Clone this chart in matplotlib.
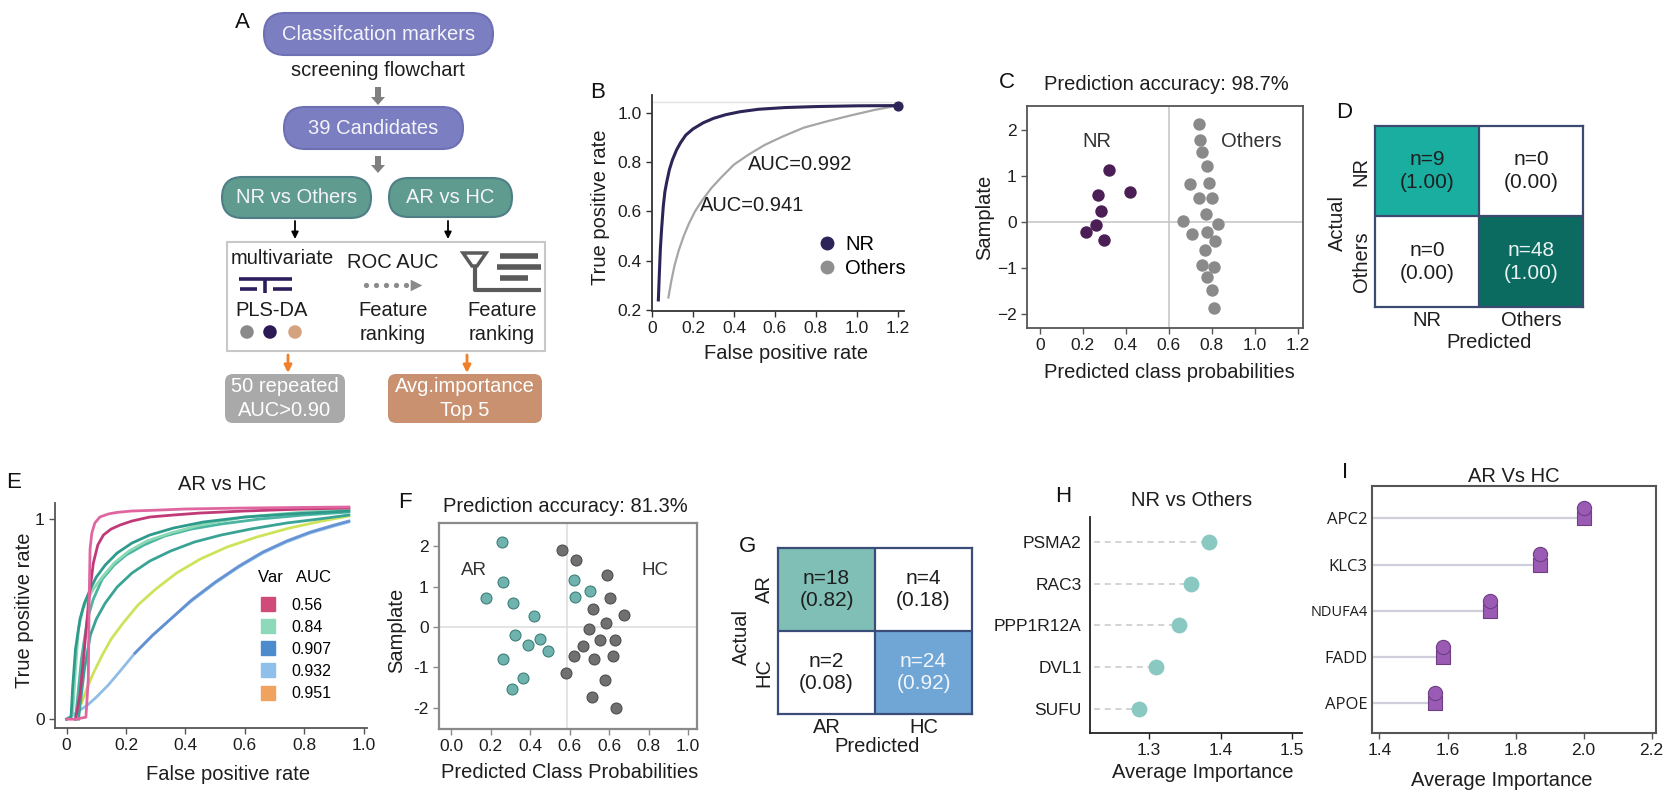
import matplotlib
matplotlib.use("Agg")
import matplotlib.pyplot as plt
import numpy as np
from matplotlib.patches import FancyBboxPatch, Rectangle, FancyArrow, Polygon
from matplotlib.lines import Line2D
from matplotlib.colors import to_rgb

plt.rcParams['font.family'] = ['Liberation Sans', 'DejaVu Sans']
plt.rcParams['axes.unicode_minus'] = True

# ======================= DATA =======================
# Panel B : ROC curves (NR vs Others)
b_nr_fpr = [0.031, 0.036, 0.041, 0.047, 0.055, 0.063, 0.072, 0.085, 0.10, 0.12, 0.14, 0.165, 0.20,
            0.25, 0.30, 0.36, 0.43, 0.52, 0.65, 0.80, 1.0, 1.2]
b_nr_tpr = [0.24, 0.35, 0.45, 0.53, 0.62, 0.68, 0.72, 0.77, 0.81, 0.85, 0.88, 0.91, 0.935,
            0.96, 0.978, 0.993, 1.005, 1.015, 1.022, 1.026, 1.029, 1.03]
b_oth_fpr = [0.08, 0.095, 0.11, 0.13, 0.155, 0.18, 0.21, 0.245, 0.29, 0.34, 0.40, 0.47, 0.55,
             0.64, 0.74, 0.85, 0.97, 1.09, 1.2]
b_oth_tpr = [0.25, 0.32, 0.38, 0.44, 0.50, 0.55, 0.60, 0.645, 0.695, 0.74, 0.79, 0.83, 0.87,
             0.905, 0.94, 0.965, 0.99, 1.013, 1.03]
b_auc_labels = ['AUC=0.992', 'AUC=0.941']
b_classes = ['NR', 'Others']

# Panel C : predicted class probabilities (NR vs Others)
c_nr_x = [0.324, 0.42, 0.27, 0.283, 0.26, 0.217, 0.30]
c_nr_y = [1.13, 0.65, 0.58, 0.24, -0.07, -0.21, -0.38]
c_oth_x = [0.743, 0.745, 0.757, 0.78, 0.70, 0.788, 0.743, 0.80, 0.773, 0.667,
           0.827, 0.71, 0.78, 0.816, 0.77, 0.757, 0.812, 0.78, 0.80, 0.81]
c_oth_y = [2.13, 1.78, 1.53, 1.21, 0.82, 0.84, 0.52, 0.52, 0.18, 0.02,
           -0.05, -0.25, -0.21, -0.41, -0.60, -0.94, -0.97, -1.19, -1.48, -1.87]
c_title = 'Prediction accuracy: 98.7%'

# Panel D : confusion matrix (NR vs Others)
d_classes = ['NR', 'Others']
d_counts = [[9, 0], [0, 48]]
d_props = [[1.00, 0.00], [0.00, 1.00]]

# Panel E : ROC curves AR vs HC
e_fpr_pink1 = [0.0, 0.03, 0.065, 0.073, 0.076, 0.079, 0.085, 0.095, 0.112, 0.14, 0.169, 0.22, 0.281, 0.40, 0.60, 0.80, 0.95]
e_tpr_pink1 = [0.0, 0.0, 0.01, 0.2, 0.6, 0.85, 0.93, 0.98, 1.01, 1.025, 1.033, 1.04, 1.043, 1.05, 1.055, 1.058, 1.06]
e_fpr_pink2 = [0.03, 0.045, 0.06, 0.075, 0.09, 0.105, 0.124, 0.15, 0.18, 0.22, 0.28, 0.36, 0.45, 0.60, 0.80, 0.95]
e_tpr_pink2 = [0.0, 0.12, 0.35, 0.60, 0.78, 0.87, 0.92, 0.95, 0.97, 0.99, 1.01, 1.02, 1.03, 1.04, 1.05, 1.055]
e_fpr_teal1 = [0.0, 0.015, 0.02, 0.03, 0.045, 0.06, 0.08, 0.10, 0.13, 0.17, 0.22, 0.28, 0.36, 0.46, 0.60, 0.75, 0.95]
e_tpr_teal1 = [0.0, 0.01, 0.15, 0.35, 0.50, 0.58, 0.65, 0.71, 0.77, 0.83, 0.88, 0.92, 0.955, 0.985, 1.01, 1.025, 1.04]
e_fpr_teal2 = [0.03, 0.05, 0.07, 0.09, 0.12, 0.16, 0.20, 0.26, 0.33, 0.42, 0.52, 0.65, 0.80, 0.95]
e_tpr_teal2 = [0.0, 0.30, 0.50, 0.60, 0.70, 0.77, 0.82, 0.87, 0.915, 0.95, 0.975, 1.0, 1.02, 1.035]
e_fpr_teal3 = [0.04, 0.06, 0.08, 0.10, 0.13, 0.17, 0.22, 0.28, 0.35, 0.43, 0.52, 0.62, 0.74, 0.85, 0.95]
e_tpr_teal3 = [0.0, 0.25, 0.42, 0.50, 0.58, 0.66, 0.73, 0.79, 0.84, 0.885, 0.92, 0.95, 0.98, 1.0, 1.02]
e_fpr_green = [0.0, 0.02, 0.03, 0.04, 0.055, 0.07, 0.09, 0.12, 0.16, 0.21, 0.27, 0.35, 0.45, 0.60, 0.80, 0.95]
e_tpr_green = [0.0, 0.02, 0.25, 0.45, 0.55, 0.60, 0.65, 0.71, 0.78, 0.84, 0.89, 0.93, 0.97, 1.01, 1.035, 1.045]
e_fpr_yellow = [0.05, 0.07, 0.09, 0.12, 0.15, 0.19, 0.24, 0.30, 0.37, 0.45, 0.54, 0.64, 0.75, 0.86, 0.95]
e_tpr_yellow = [0.08, 0.16, 0.23, 0.32, 0.40, 0.48, 0.57, 0.65, 0.73, 0.80, 0.86, 0.91, 0.955, 0.99, 1.015]
e_fpr_ltblue = [0.0, 0.04, 0.07, 0.10, 0.14, 0.18, 0.23, 0.29, 0.35, 0.42, 0.50, 0.58, 0.66, 0.74, 0.82, 0.90, 0.95]
e_tpr_ltblue = [0.0, 0.04, 0.07, 0.11, 0.17, 0.24, 0.33, 0.42, 0.50, 0.59, 0.68, 0.76, 0.83, 0.885, 0.93, 0.965, 0.985]
e_fpr_blue = [0.23, 0.29, 0.35, 0.42, 0.50, 0.58, 0.66, 0.74, 0.82, 0.90, 0.95]
e_tpr_blue = [0.33, 0.42, 0.50, 0.595, 0.685, 0.765, 0.835, 0.89, 0.935, 0.97, 0.99]
e_legend_auc = ['0.56', '0.84', '0.907', '0.932', '0.951']

# Panel F : predicted class probabilities (AR vs HC)
f_ar_x = [0.258, 0.263, 0.175, 0.314, 0.419, 0.322, 0.449, 0.39, 0.49, 0.263, 0.364, 0.305, 0.622, 0.627, 0.703]
f_ar_y = [2.09, 1.12, 0.71, 0.60, 0.27, -0.20, -0.30, -0.45, -0.59, -0.80, -1.26, -1.53, 1.16, 0.75, 0.90]
f_hc_x = [0.559, 0.632, 0.788, 0.805, 0.72, 0.873, 0.785, 0.695, 0.751, 0.831, 0.666, 0.622,
          0.819, 0.724, 0.58, 0.78, 0.712, 0.836]
f_hc_y = [1.91, 1.65, 1.28, 0.71, 0.44, 0.30, 0.09, -0.05, -0.32, -0.32, -0.48, -0.71,
          -0.71, -0.80, -1.14, -1.31, -1.74, -2.00]
f_xtick_labels = ['0.0', '0.2', '0.4', '0.6', '0.6', '0.8', '1.0']
f_title = 'Prediction accuracy: 81.3%'

# Panel G : confusion matrix (AR vs HC)
g_classes = ['AR', 'HC']
g_counts = [[18, 4], [2, 24]]
g_props = [[0.82, 0.18], [0.08, 0.92]]

# Panel H : feature importance NR vs Others
h_genes = ['PSMA2', 'RAC3', 'PPP1R12A', 'DVL1', 'SUFU']
h_importance = [1.384, 1.358, 1.342, 1.310, 1.285]

# Panel I : feature importance AR vs HC
i_genes = ['APC2', 'KLC3', 'NDUFA4', 'FADD', 'APOE']
i_importance = [2.0, 1.872, 1.724, 1.588, 1.562]

# ======================= LAYOUT HELPERS =======================
W, H = 1676, 799
fig = plt.figure(figsize=(W / 100, H / 100), dpi=100)
TXT = '#1e1e1e'
FS = 14.5
TFS = 12.5


def rect(l, t, r, b):
    return [l / W, 1 - b / H, (r - l) / W, (b - t) / H]


def xlabel_at(ax, text, x, y, fs=FS):
    ax.set_xlabel(text, fontsize=fs, color=TXT)
    ax.xaxis.set_label_coords(x / W, 1 - y / H, transform=fig.transFigure)
    ax.xaxis.label.set_va('center')


def ylabel_at(ax, text, x, y, fs=FS):
    ax.set_ylabel(text, fontsize=fs, color=TXT)
    ax.yaxis.set_label_coords(x / W, 1 - y / H, transform=fig.transFigure)
    ax.yaxis.label.set_va('center')


def title_at(ax, box, text, x, y, fs=FS):
    l, t, r, b = box
    ax.set_title(text, x=(x - l) / (r - l), y=(b - y) / (b - t), va='center',
                 ha='center', fontsize=fs, color=TXT, pad=0)


def letter(s, x, y):
    fig.text(x / W, 1 - y / H, s, fontsize=16, ha='center', va='center', color='#111')


def style_ticks(ax, color='#333'):
    ax.tick_params(labelsize=TFS, colors=TXT, direction='out', length=4, width=1, color=color)


# ======================= PANEL A (flowchart) =======================
ax0 = fig.add_axes([0, 0, 1, 1])
ax0.set_xlim(0, W)
ax0.set_ylim(H, 0)
ax0.axis('off')
ax0.patch.set_visible(False)

PURPLE = '#7b7ec0'
TEAL = '#5f9b8e'


def pill(l, t, r, b, color, edge, text):
    h = b - t
    p = FancyBboxPatch((l, t), r - l, h, boxstyle=f"round,pad=0,rounding_size={h / 2}",
                       facecolor=color, edgecolor=edge, lw=1.5)
    ax0.add_patch(p)
    ax0.text((l + r) / 2, (t + b) / 2, text, ha='center', va='center', fontsize=FS, color='#f4f4fa')


pill(264, 13, 493, 55, PURPLE, '#6d70b3', 'Classifcation markers')
ax0.text(378, 70, 'screening flowchart', ha='center', va='center', fontsize=FS, color=TXT)
ax0.add_patch(FancyArrow(378, 87, 0, 18, width=6, head_width=14, head_length=8,
                         length_includes_head=True, color='#808080', lw=0))
pill(284, 107, 463, 149, PURPLE, '#6d70b3', '39 Candidates')
ax0.add_patch(FancyArrow(378, 156, 0, 17, width=6, head_width=14, head_length=8,
                         length_includes_head=True, color='#808080', lw=0))
pill(222, 177, 371, 218, TEAL, '#4e7f86', 'NR vs Others')
pill(389, 178, 512, 217, TEAL, '#4e7f86', 'AR vs HC')
for ax_x in (295, 448):
    ax0.annotate('', xy=(ax_x, 239), xytext=(ax_x, 221),
                 arrowprops=dict(arrowstyle='-|>', color='black', lw=1.3, mutation_scale=10,
                                 shrinkA=0, shrinkB=0))
ax0.add_patch(Rectangle((227, 242), 318, 109, facecolor='white', edgecolor='#c8c8c8', lw=1.5))
ax0.text(282, 259, 'multivariate', ha='center', va='center', fontsize=FS, color=TXT)
ax0.text(272, 311, 'PLS-DA', ha='center', va='center', fontsize=FS, color=TXT)
ax0.text(393, 263, 'ROC AUC', ha='center', va='center', fontsize=FS, color=TXT)
ax0.text(393, 311, 'Feature', ha='center', va='center', fontsize=FS, color=TXT)
ax0.text(393, 335, 'ranking', ha='center', va='center', fontsize=FS, color=TXT)
ax0.text(502, 311, 'Feature', ha='center', va='center', fontsize=FS, color=TXT)
ax0.text(502, 335, 'ranking', ha='center', va='center', fontsize=FS, color=TXT)
# PLS-DA icon
IC = '#2e1d5c'
ax0.plot([239, 292], [279, 279], color=IC, lw=2.6, solid_capstyle='butt')
ax0.plot([265, 265], [279, 293], color=IC, lw=2.6, solid_capstyle='butt')
ax0.plot([240, 257], [289, 289], color=IC, lw=2.6, solid_capstyle='butt')
ax0.plot([273, 292], [289, 289], color=IC, lw=2.6, solid_capstyle='butt')
ax0.scatter([247, 270, 295], [332, 332, 332], s=95, color=['#8a8a8a', '#2b1a55', '#d6a37f'], lw=0)
# dotted arrow
ax0.scatter([366, 376, 386, 396, 406], [285] * 5, s=14, color='#8a8a8a', lw=0)
ax0.scatter([416], [285], s=70, marker='>', color='#8a8a8a', lw=0)
# funnel icon
GI = '#5a5a5a'
ax0.add_patch(Polygon([(463, 253), (486, 253), (477, 266), (472, 266)], closed=True,
                      facecolor='none', edgecolor=GI, lw=2.5))
ax0.plot([474.5, 474.5, 541], [266, 290, 290], color=GI, lw=3, solid_capstyle='butt')
ax0.plot([500, 538], [256, 256], color=GI, lw=4, solid_capstyle='butt')
ax0.plot([497, 541], [267, 267], color=GI, lw=4, solid_capstyle='butt')
ax0.plot([500, 528], [278, 278], color=GI, lw=4, solid_capstyle='butt')
# orange arrows
for ax_x in (288, 467):
    ax0.annotate('', xy=(ax_x, 373), xytext=(ax_x, 355),
                 arrowprops=dict(arrowstyle='-|>', color='#f07f2a', lw=2, mutation_scale=11,
                                 shrinkA=0, shrinkB=0))
ax0.add_patch(FancyBboxPatch((225, 374), 120, 49, boxstyle="round,pad=0,rounding_size=8",
                             facecolor='#a9a9a9', edgecolor='none'))
ax0.text(285, 387, '50 repeated', ha='center', va='center', fontsize=FS, color='white')
ax0.text(285, 410, 'AUC>0.90', ha='center', va='center', fontsize=FS, color='white')
ax0.add_patch(FancyBboxPatch((388, 374), 154, 49, boxstyle="round,pad=0,rounding_size=8",
                             facecolor='#c99170', edgecolor='none'))
ax0.text(465, 387, 'Avg.importance', ha='center', va='center', fontsize=FS, color='white')
ax0.text(465, 410, 'Top 5', ha='center', va='center', fontsize=FS, color='white')
letter('A', 242, 22)

# ======================= PANEL B =======================
boxB = (652, 95, 904, 311)
axB = fig.add_axes(rect(*boxB))
NRC = '#2d2557'
axB.axhline(1.045, color='#e2e2e2', lw=1)
axB.plot(b_oth_fpr, b_oth_tpr, color='#a6a6a6', lw=1.6)
axB.plot(b_nr_fpr, b_nr_tpr, color=NRC, lw=2.2)
axB.scatter([b_nr_fpr[-1]], [b_nr_tpr[-1]], color=NRC, s=40, zorder=5)
axB.set_xlim(0, 1.23)
axB.set_ylim(0.195, 1.073)
bx = [0, 0.2, 0.4, 0.6, 0.8, 1.0, 1.2]
axB.set_xticks(bx, ['0', '0.2', '0.4', '0.6', '0.8', '1.0', '1.2'])
by = [0.2, 0.4, 0.6, 0.8, 1.0]
axB.set_yticks(by, ['0.2', '0.4', '0.6', '0.8', '1.0'])
for s in ('top', 'right'):
    axB.spines[s].set_visible(False)
for s in ('left', 'bottom'):
    axB.spines[s].set_color('#333')
    axB.spines[s].set_linewidth(1.3)
style_ticks(axB)
axB.text(0.47, 0.79, b_auc_labels[0], fontsize=FS, color=TXT, ha='left', va='center')
axB.text(0.235, 0.625, b_auc_labels[1], fontsize=FS, color=TXT, ha='left', va='center')
hB = [Line2D([], [], marker='o', ls='', color=NRC, markersize=9),
      Line2D([], [], marker='o', ls='', color='#8f8f8f', markersize=9)]
axB.legend(hB, b_classes, loc='upper left', bbox_to_anchor=(0.654, 0.35), frameon=False,
           fontsize=FS, handlelength=1.0, handletextpad=0.4, borderpad=0, borderaxespad=0,
           labelspacing=0.25)
xlabel_at(axB, 'False positive rate', 786, 354)
ylabel_at(axB, 'True positive rate', 601, 207)
letter('B', 598, 92)

# ======================= PANEL C =======================
boxC = (1027, 106, 1303, 328)
axC = fig.add_axes(rect(*boxC))
axC.axvline(0.6, color='#c4c4c4', lw=1.1)
axC.axhline(0, color='#c4c4c4', lw=1.1)
axC.scatter(c_oth_x, c_oth_y, s=80, color='#8a8a8a', lw=0, zorder=3)
axC.scatter(c_nr_x, c_nr_y, s=80, color='#4b1f56', lw=0, zorder=3)
axC.text(0.267, 1.745, 'NR', fontsize=FS, color='#333', ha='center', va='center')
axC.text(0.985, 1.745, 'Others', fontsize=FS, color='#333', ha='center', va='center')
axC.set_xlim(-0.06, 1.225)
axC.set_ylim(-2.30, 2.52)
axC.set_xticks(bx, ['0', '0.2', '0.4', '0.6', '0.8', '1.0', '1.2'])
axC.set_yticks([-2, -1, 0, 1, 2])
for s in axC.spines.values():
    s.set_color('#555')
    s.set_linewidth(1.3)
style_ticks(axC, '#555')
title_at(axC, boxC, c_title, 1166, 85)
xlabel_at(axC, 'Predicted class probabilities', 1169, 373)
ylabel_at(axC, 'Samplate', 985, 217)
letter('C', 1007, 82)


# ======================= CONFUSION MATRICES =======================
def conf_matrix(ax, counts, props, classes, diag_colors, diag_text, edge):
    n = len(classes)
    img = np.ones((n, n, 3))
    for i in range(n):
        img[i, i] = to_rgb(diag_colors[i])
    ax.imshow(img, extent=(0, n, n, 0), aspect='auto', interpolation='nearest')
    for i in range(n):
        for j in range(n):
            col = diag_text[i] if i == j else '#1e1e1e'
            ax.text(j + 0.5, i + 0.5, f"n={counts[i][j]}\n({props[i][j]:.2f})", ha='center',
                    va='center', fontsize=15, color=col, linespacing=1.25)
    for k in range(1, n):
        ax.axhline(k, color=edge, lw=1.6)
        ax.axvline(k, color=edge, lw=1.6)
    for s in ax.spines.values():
        s.set_color(edge)
        s.set_linewidth(1.6)
    ax.set_xlim(0, n)
    ax.set_ylim(n, 0)
    ax.set_xticks(np.arange(n) + 0.5, classes)
    ax.set_yticks(np.arange(n) + 0.5, classes, rotation=90, va='center')
    ax.tick_params(length=0, labelsize=FS, colors=TXT, pad=3)


boxD = (1375, 126, 1583, 307)
axD = fig.add_axes(rect(*boxD))
conf_matrix(axD, d_counts, d_props, d_classes, ['#1aaea0', '#0b6b61'], ['#1e1e1e', '#e8f2f1'], '#3b4a6e')
xlabel_at(axD, 'Predicted', 1489, 342)
ylabel_at(axD, 'Actual', 1337, 223)
letter('D', 1344, 112)

boxG = (778, 548, 972, 714)
axG = fig.add_axes(rect(*boxG))
conf_matrix(axG, g_counts, g_props, g_classes, ['#80bfb6', '#6fa6d6'], ['#1e1e1e', '#f2f6fb'], '#3a4d78')
xlabel_at(axG, 'Predicted', 877, 747)
ylabel_at(axG, 'Actual', 741, 637)
letter('G', 747, 546)

# ======================= PANEL E =======================
boxE = (55, 503, 367, 728)
axE = fig.add_axes(rect(*boxE))
axE.plot(e_fpr_ltblue, e_tpr_ltblue, color='#8fbde6', lw=2)
axE.plot(e_fpr_blue, e_tpr_blue, color='#5a8ad0', lw=2, alpha=0.85)
axE.plot(e_fpr_yellow, e_tpr_yellow, color='#cfe35a', lw=2)
axE.plot(e_fpr_teal3, e_tpr_teal3, color='#3aa396', lw=2)
axE.plot(e_fpr_teal2, e_tpr_teal2, color='#4bb5a2', lw=2)
axE.plot(e_fpr_green, e_tpr_green, color='#8ad8b4', lw=2)
axE.plot(e_fpr_teal1, e_tpr_teal1, color='#2e9a8c', lw=2)
axE.plot(e_fpr_pink2, e_tpr_pink2, color='#c03a78', lw=2)
axE.plot(e_fpr_pink1, e_tpr_pink1, color='#e066a0', lw=2)
axE.set_xlim(-0.039, 1.011)
axE.set_ylim(-0.044, 1.08)
axE.set_xticks([0, 0.2, 0.4, 0.6, 0.8, 1.0], ['0', '0.2', '0.4', '0.6', '0.8', '1.0'])
axE.set_yticks([0, 1], ['0', '1'])
for s in ('top', 'right'):
    axE.spines[s].set_visible(False)
for s in ('left', 'bottom'):
    axE.spines[s].set_color('#555')
    axE.spines[s].set_linewidth(1.3)
style_ticks(axE, '#555')
e_colors = ['#d04a7a', '#8dd9b9', '#4d8ccc', '#8ec0ea', '#f0a35e']
hE = [Line2D([], [], marker='s', ls='', color=c, markersize=10) for c in e_colors]
legE = axE.legend(hE, e_legend_auc, title='Var   AUC', loc='upper left',
                  bbox_to_anchor=(258 / W, 1 - 570 / H), bbox_transform=fig.transFigure,
                  frameon=False, fontsize=11.5, title_fontsize=12, handlelength=1.2,
                  handletextpad=0.9, borderpad=0, borderaxespad=0, labelspacing=0.45,
                  alignment='left')
legE._legend_box.sep = 9
xlabel_at(axE, 'False positive rate', 228, 775)
ylabel_at(axE, 'True positive rate', 25, 610)
title_at(axE, boxE, 'AR vs HC', 222, 485)
letter('E', 14, 483)

# ======================= PANEL F =======================
boxF = (439, 523, 697, 729)
axF = fig.add_axes(rect(*boxF))
axF.axvline(0.585, color='#dcdcdc', lw=1.1)
axF.axhline(0, color='#dcdcdc', lw=1.1)
axF.scatter(f_hc_x, f_hc_y, s=62, color='#707070', edgecolor='#4f4f4f', lw=0.8, zorder=3)
axF.scatter(f_ar_x, f_ar_y, s=62, color='#6fb3ae', edgecolor='#3f7f7a', lw=0.8, zorder=3)
axF.text(0.114, 1.40, 'AR', fontsize=13.5, color='#333', ha='center', va='center')
axF.text(1.034, 1.40, 'HC', fontsize=13.5, color='#333', ha='center', va='center')
axF.set_xlim(-0.063, 1.245)
axF.set_ylim(-2.52, 2.57)
axF.set_xticks(bx, f_xtick_labels)
axF.set_yticks([-2, -1, 0, 1, 2], ['-2', '-1', '0', '1', '2'])
for s in axF.spines.values():
    s.set_color('#8a8a8a')
    s.set_linewidth(1.6)
style_ticks(axF, '#8a8a8a')
title_at(axF, boxF, f_title, 565, 507)
xlabel_at(axF, 'Predicted Class Probabilities', 570, 772)
ylabel_at(axF, 'Samplate', 397, 630)
letter('F', 405, 502)

# ======================= PANEL H =======================
boxH = (1090, 517, 1302, 733)
axH = fig.add_axes(rect(*boxH))
h_pos = np.arange(len(h_genes))[::-1]
axH.hlines(h_pos, 1.222, h_importance, color='#c8c8c8', lw=1.1, linestyles=(0, (4, 3)))
axH.scatter(h_importance, h_pos, s=130, color='#8ac8c2', lw=0, zorder=3)
axH.set_xlim(1.217, 1.514)
axH.set_ylim(-0.57, 4.59)
axH.set_xticks([1.3, 1.4, 1.5])
axH.set_yticks(h_pos, h_genes)
for s in ('top', 'right'):
    axH.spines[s].set_visible(False)
for s in ('left', 'bottom'):
    axH.spines[s].set_color('#222')
    axH.spines[s].set_linewidth(1.3)
style_ticks(axH, '#222')
axH.tick_params(axis='y', length=0, pad=6)
title_at(axH, boxH, 'NR vs Others', 1192, 501)
xlabel_at(axH, 'Average Importance', 1203, 773)
letter('H', 1063, 497)

# ======================= PANEL I =======================
boxI = (1372, 486, 1656, 733)
axI = fig.add_axes(rect(*boxI))
i_pos = np.arange(len(i_genes))[::-1]
axI.hlines(i_pos, 1.378, i_importance, color='#cfcfdc', lw=1.6)
axI.scatter(i_importance, i_pos, s=95, marker='s', color='#9b5ab4', edgecolor='#6d3f85', lw=0.8, zorder=3)
axI.scatter(i_importance, i_pos + 0.22, s=105, marker='o', color='#9b5ab4', edgecolor='#6d3f85', lw=0.8, zorder=4)
axI.set_xlim(1.378, 2.213)
axI.set_ylim(-0.64, 4.70)
axI.set_xticks([1.4, 1.6, 1.8, 2.0, 2.2])
axI.set_yticks(i_pos, i_genes)
for s in axI.spines.values():
    s.set_color('#555')
    s.set_linewidth(1.5)
style_ticks(axI, '#555')
axI.tick_params(axis='y', length=0, pad=3)
for lab in axI.get_yticklabels():
    lab.set_family(['Open Sans', 'DejaVu Sans'])
    lab.set_fontsize(10.5 if lab.get_text() == 'NDUFA4' else 12)
title_at(axI, boxI, 'AR Vs HC', 1514, 477)
xlabel_at(axI, 'Average Importance', 1502, 780)
letter('I', 1345, 472)

fig.savefig('out.png', dpi=100, facecolor='white')
